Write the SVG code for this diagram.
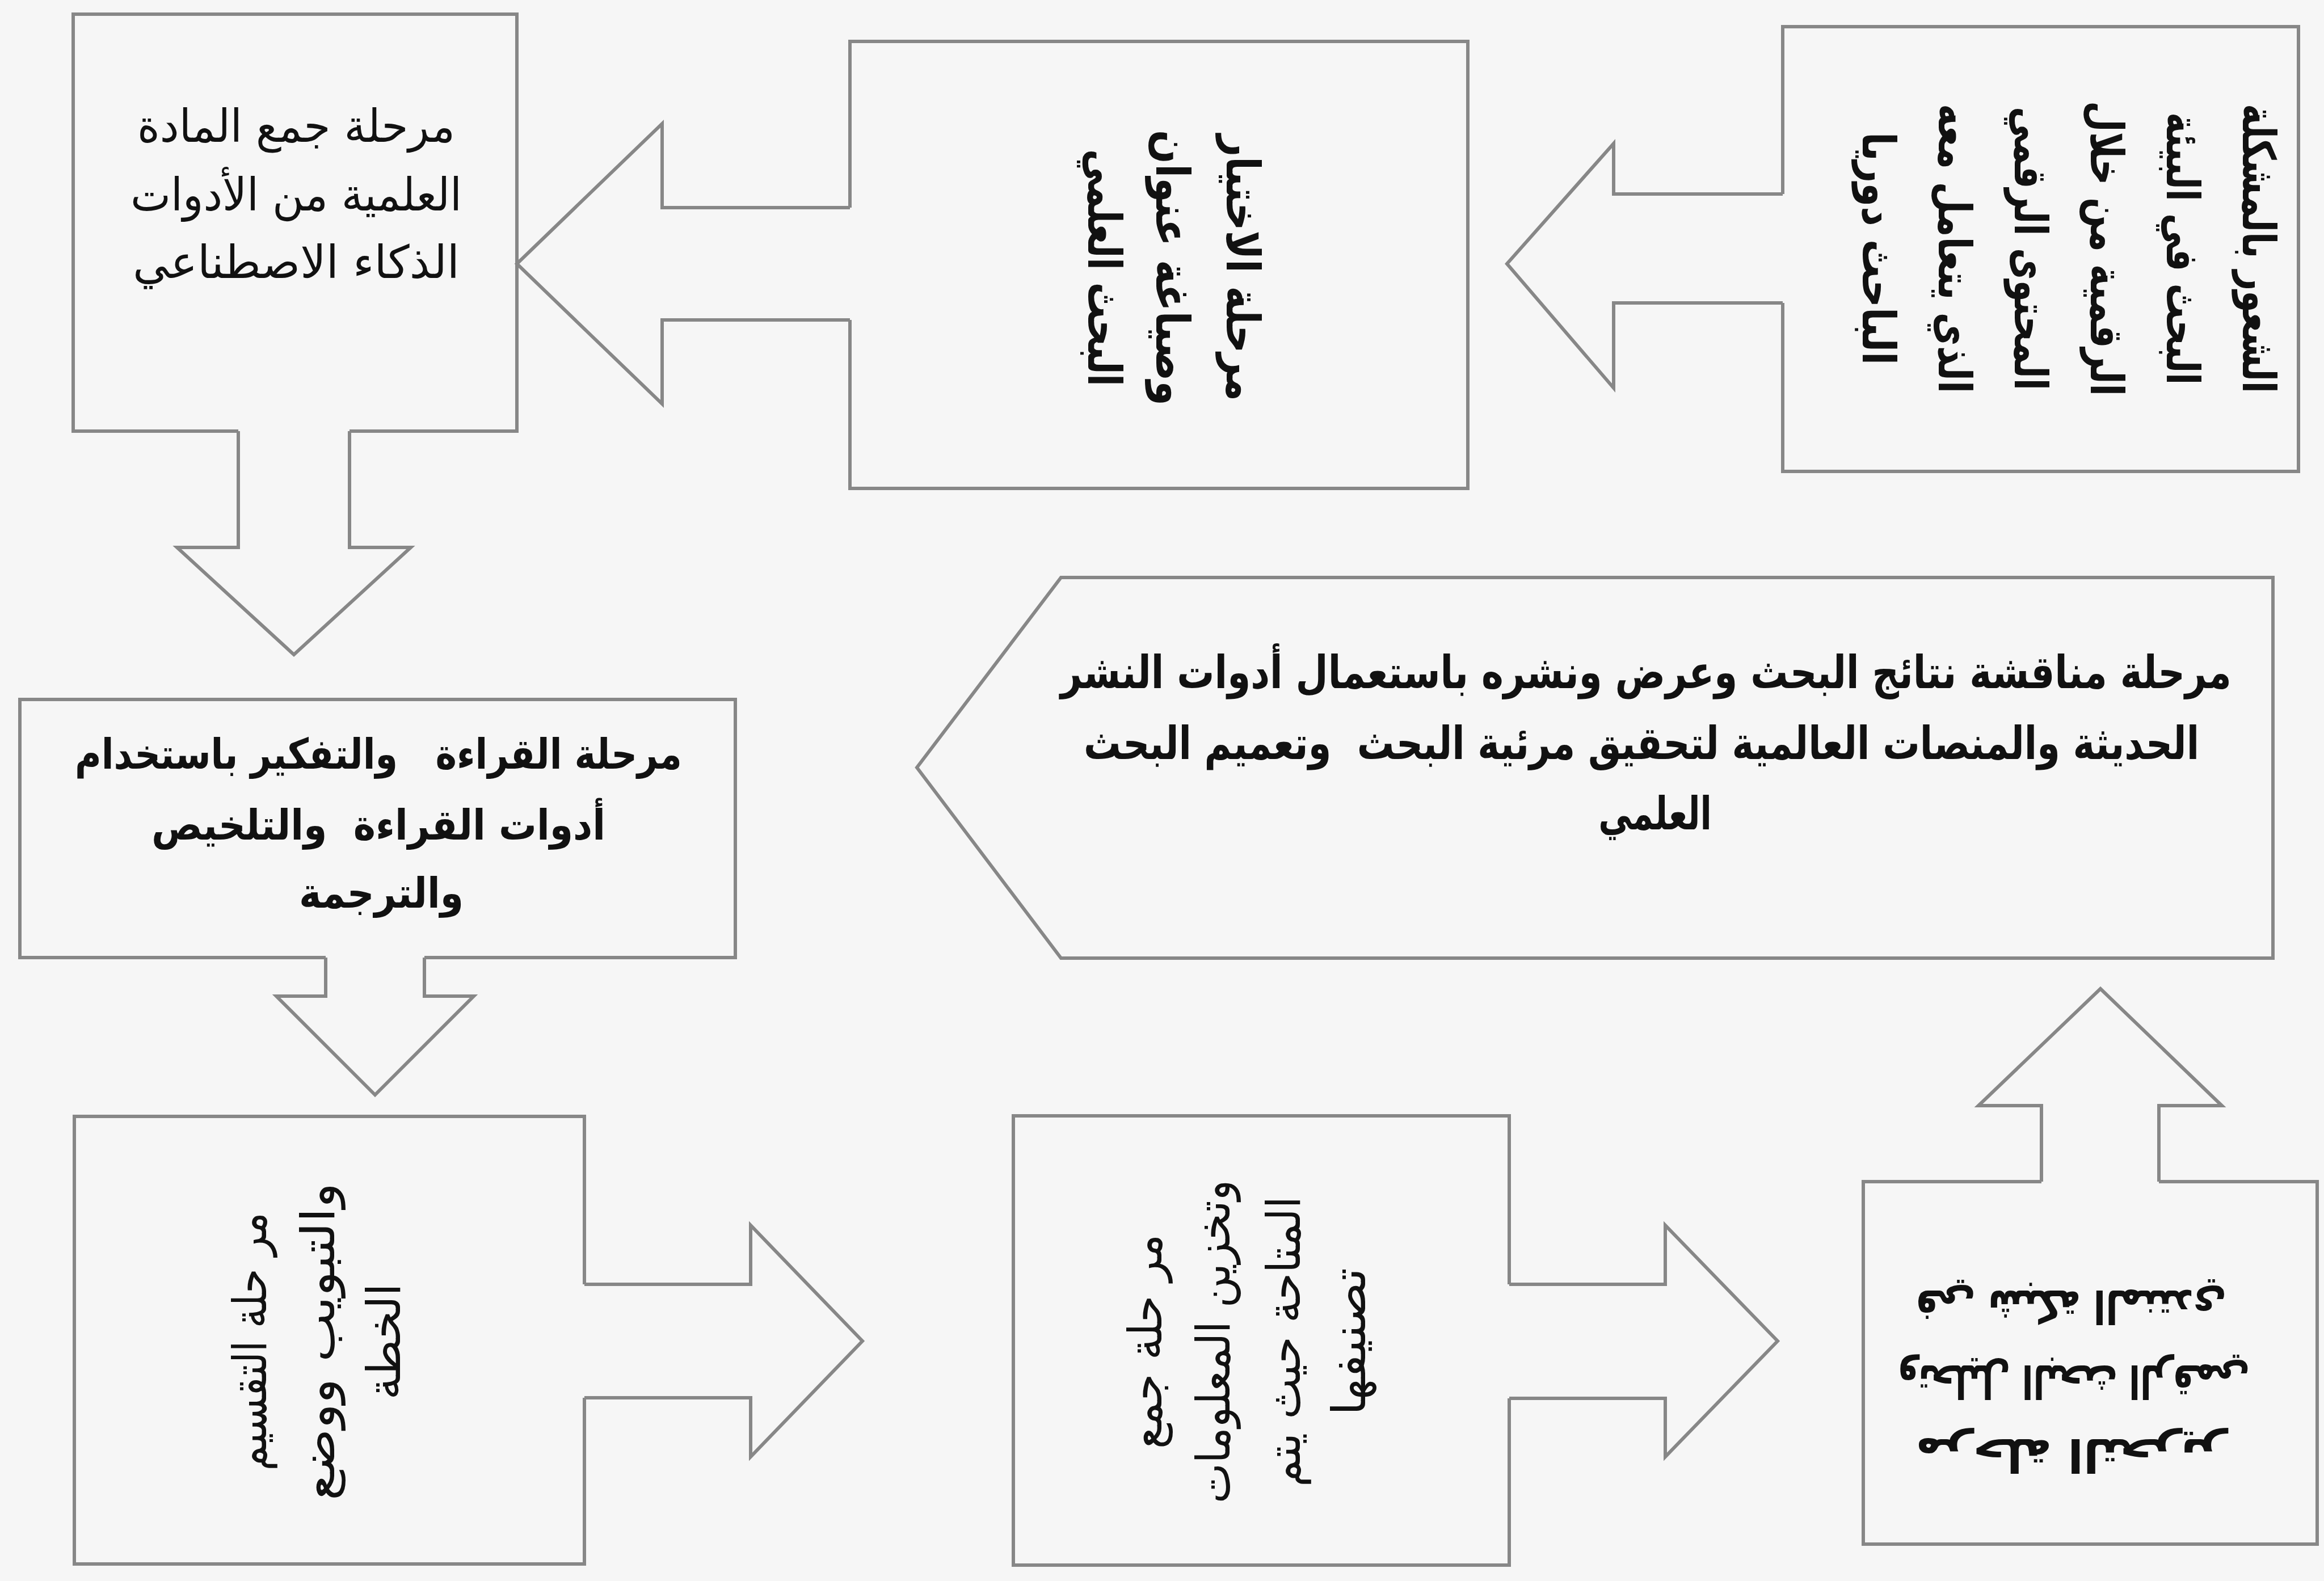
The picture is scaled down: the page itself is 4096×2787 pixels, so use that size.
<svg xmlns="http://www.w3.org/2000/svg" width="4096" height="2787" viewBox="0 0 4096 2787">
<style>
.bg{fill:#f6f6f6}
.box{fill:#f6f6f6;stroke:#878787;stroke-width:6}
.af{fill:#f6f6f6;stroke:none}
.as{fill:none;stroke:#878787;stroke-width:6;stroke-linejoin:miter}
.t{font-family:"DejaVu Sans",sans-serif;fill:#111;text-anchor:middle}
.b{font-weight:bold}
.v{dominant-baseline:central}
</style>
<rect class="bg" x="0" y="0" width="4096" height="2787"/>

<g id="node-1">
<rect class="box" x="3142" y="47" width="909" height="784"/>
<text class="t v b" transform="translate(3980 438) rotate(90)" font-size="80" textLength="510" lengthAdjust="spacingAndGlyphs">الشعور بالمشكلة</text>
<text class="t v b" transform="translate(3846 438) rotate(90)" font-size="80" textLength="480" lengthAdjust="spacingAndGlyphs">البحث في البيئة</text>
<text class="t v b" transform="translate(3712 438) rotate(90)" font-size="80" textLength="520" lengthAdjust="spacingAndGlyphs">الرقمية من خلال</text>
<text class="t v b" transform="translate(3578 438) rotate(90)" font-size="80" textLength="500" lengthAdjust="spacingAndGlyphs">المحتوى الرقمي</text>
<text class="t v b" transform="translate(3444 438) rotate(90)" font-size="80" textLength="510" lengthAdjust="spacingAndGlyphs">الذي يتعامل معه</text>
<text class="t v b" transform="translate(3310 438) rotate(90)" font-size="80" textLength="410" lengthAdjust="spacingAndGlyphs">الباحث دوريا</text>
</g>

<g id="node-2">
<rect class="box" x="1498" y="73" width="1089" height="788"/>
<text class="t v b" transform="translate(2190 472) rotate(90)" font-size="82" textLength="470" lengthAdjust="spacingAndGlyphs">مرحلة الاختيار</text>
<text class="t v b" transform="translate(2066 472) rotate(90)" font-size="82" textLength="486" lengthAdjust="spacingAndGlyphs">وصياغة عنوان</text>
<text class="t v b" transform="translate(1946 472) rotate(90)" font-size="82" textLength="418" lengthAdjust="spacingAndGlyphs">البحث العلمي</text>
</g>

<g id="node-3">
<rect class="box" x="129" y="25" width="782" height="735"/>
<text class="t" x="522" y="250" font-size="80" textLength="560" lengthAdjust="spacingAndGlyphs">مرحلة جمع المادة</text>
<text class="t" x="522" y="371" font-size="80" textLength="584" lengthAdjust="spacingAndGlyphs">العلمية من الأدوات</text>
<text class="t" x="522" y="490" font-size="80" textLength="576" lengthAdjust="spacingAndGlyphs">الذكاء الاصطناعي</text>
</g>

<g id="node-4">
<rect class="box" x="35" y="1233" width="1261" height="455"/>
<text class="t b" xml:space="preserve" x="667" y="1355" font-size="74" textLength="1070" lengthAdjust="spacingAndGlyphs">مرحلة القراءة   والتفكير باستخدام</text>
<text class="t b" xml:space="preserve" x="667" y="1480" font-size="74" textLength="800" lengthAdjust="spacingAndGlyphs">أدوات القراءة  والتلخيص</text>
<text class="t b" x="672" y="1600" font-size="74" textLength="290" lengthAdjust="spacingAndGlyphs">والترجمة</text>
</g>

<g id="node-5">
<rect class="box" x="131" y="1968" width="899" height="789"/>
<text class="t v" transform="translate(440 2365) rotate(-90)" font-size="82" textLength="455" lengthAdjust="spacingAndGlyphs">مر حلة التقسيم</text>
<text class="t v" transform="translate(560 2365) rotate(-90)" font-size="82" textLength="560" lengthAdjust="spacingAndGlyphs">والتبويب ووضع</text>
<text class="t v" transform="translate(676 2365) rotate(-90)" font-size="82" textLength="205" lengthAdjust="spacingAndGlyphs">الخطة</text>
</g>

<g id="node-6">
<rect class="box" x="1786" y="1967" width="874" height="792"/>
<text class="t v" transform="translate(2018 2365) rotate(-90)" font-size="82" textLength="378" lengthAdjust="spacingAndGlyphs">مر حلة جمع</text>
<text class="t v" transform="translate(2138 2365) rotate(-90)" font-size="82" textLength="570" lengthAdjust="spacingAndGlyphs">وتخزين المعلومات</text>
<text class="t v" transform="translate(2262 2365) rotate(-90)" font-size="82" textLength="512" lengthAdjust="spacingAndGlyphs">المتاحة حيث يتم</text>
<text class="t v" transform="translate(2377 2365) rotate(-90)" font-size="82" textLength="260" lengthAdjust="spacingAndGlyphs">تصنيفها</text>
</g>

<g id="node-7">
<rect class="box" x="3284" y="2083" width="800" height="639"/>
<g transform="rotate(180 3695 2432)">
<text class="t v b" x="3740" y="2300" font-size="80" textLength="548" lengthAdjust="spacingAndGlyphs">مرحلة التحرير</text>
<text class="t v b" x="3735" y="2430" font-size="80" textLength="620" lengthAdjust="spacingAndGlyphs">وتحليل البحث الرقمي</text>
<text class="t v b" x="3740" y="2562" font-size="80" textLength="548" lengthAdjust="spacingAndGlyphs">في شبكة المنتدي</text>
</g>
</g>

<g id="node-8">
<path class="box" d="M1870 1018 H4006 V1689 H1870 L1616 1353 Z"/>
<text class="t b" transform="translate(2901 1213) scale(0.85 1)" font-size="80" textLength="2428" lengthAdjust="spacingAndGlyphs">مرحلة مناقشة نتائج البحث وعرض ونشره باستعمال أدوات النشر</text>
<text class="t b" xml:space="preserve" transform="translate(2893 1338) scale(0.85 1)" font-size="80" textLength="2313" lengthAdjust="spacingAndGlyphs">الحديثة والمنصات العالمية لتحقيق مرئية البحث  وتعميم البحث</text>
<text class="t b" transform="translate(2917 1462) scale(0.85 1)" font-size="80" textLength="235" lengthAdjust="spacingAndGlyphs">العلمي</text>
</g>

<g id="connectors">
<polygon class="af" points="3148,342 2844,342 2844,253 2656,465 2844,684 2844,534 3148,534"/>
<polyline class="as" points="3142,342 2844,342 2844,253 2656,465 2844,684 2844,534 3142,534"/>
<polygon class="af" points="1504,366 1167,366 1167,218 911,465 1167,712 1167,564 1504,564"/>
<polyline class="as" points="1498,366 1167,366 1167,218 911,465 1167,712 1167,564 1498,564"/>
<polygon class="af" points="420,754 420,965 312,965 518,1154 724,965 616,965 616,754"/>
<polyline class="as" points="420,760 420,965 312,965 518,1154 724,965 616,965 616,760"/>
<polygon class="af" points="574,1682 574,1756 487,1756 661,1930 835,1756 748,1756 748,1682"/>
<polyline class="as" points="574,1688 574,1756 487,1756 661,1930 835,1756 748,1756 748,1688"/>
<polygon class="af" points="1024,2264 1323,2264 1323,2160 1520,2364 1323,2568 1323,2464 1024,2464"/>
<polyline class="as" points="1030,2264 1323,2264 1323,2160 1520,2364 1323,2568 1323,2464 1030,2464"/>
<polygon class="af" points="2654,2264 2935,2264 2935,2160 3133,2364 2935,2568 2935,2465 2654,2465"/>
<polyline class="as" points="2660,2264 2935,2264 2935,2160 3133,2364 2935,2568 2935,2465 2660,2465"/>
<polygon class="af" points="3598,2089 3598,1949 3487,1949 3702,1743 3916,1949 3805,1949 3805,2089"/>
<polyline class="as" points="3598,2083 3598,1949 3487,1949 3702,1743 3916,1949 3805,1949 3805,2083"/>
</g>
</svg>
